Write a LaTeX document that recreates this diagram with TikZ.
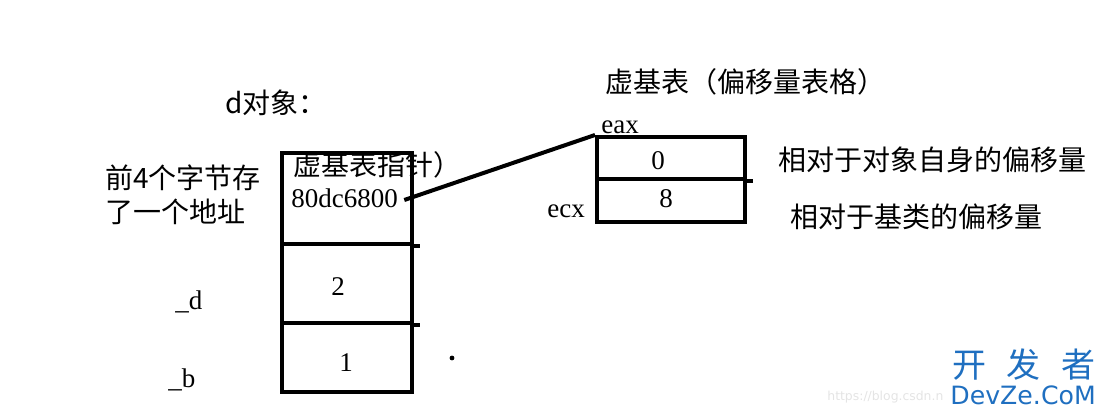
\documentclass[tikz,border=0pt]{standalone}
\usepackage{fontspec}
\setmainfont{Liberation Serif}
\newfontfamily\cjk{Noto Sans CJK SC}
\newfontfamily\logofont{DejaVu Sans}
\usetikzlibrary{positioning,calc}
\definecolor{LogoBlue}{HTML}{1F6FC0}
\definecolor{MarkGray}{HTML}{E4E4E4}

\begin{document}
\begin{tikzpicture}[
  x=0.5pt,y=-0.5pt,
  font=\fontsize{13.5}{17}\selectfont,
  boxcell/.style={draw,line width=2pt,minimum width=65pt,inner sep=0pt},
  tablecell/.style={draw,line width=2pt,minimum width=74pt,inner sep=0pt},
  cjktext/.style={font=\cjk\fontsize{14}{17}\selectfont,anchor=west,inner sep=0pt},
  latintext/.style={anchor=west,inner sep=0pt},
  numtext/.style={inner sep=0pt},
  link/.style={line width=2pt}
]
\useasboundingbox (0,0) rectangle (1107,416);

% d object layout
\node[cjktext] (dtitle) at (225,103) {d对象：};
\node[boxcell,minimum height=45.5pt] (ptrcell) at (347,198.5) {};
\node[boxcell,minimum height=39.5pt] (dcell) at (347,283.5) {};
\node[boxcell,minimum height=34.5pt] (bcell) at (347,357.5) {};
\draw[link] (ptrcell.south east) -- ++(6,0);
\draw[link] (dcell.south east) -- ++(6,0);

\node[cjktext] (ptrname) at (293,165) {虚基表指针）};
\node[latintext] (addr) at (291,198) {80dc6800};
\node[numtext] (dval) at (338,287) {2};
\node[numtext] (bval) at (346,363) {1};
\node[latintext] (dname) at (175,302) {\_d};
\node[latintext] (bname) at (168,380) {\_b};
\node[cjktext,align=left] (bytesnote) at (105,195) {前4个字节存\\了一个地址};
\fill (452,358) circle (1.2pt);

% virtual base table
\node[cjktext] (vbtitle) at (605,82) {虚基表（偏移量表格）};
\node[tablecell,minimum height=21pt] (zerocell) at (671,158) {};
\node[tablecell,minimum height=21.5pt] (eightcell) at (671,200.5) {};
\draw[link] (zerocell.south east) -- ++(6,0);
\node[numtext] (zeroval) at (658,161) {0};
\node[numtext] (eightval) at (666,199) {8};
\node[latintext] (eaxname) at (601,127) {eax};
\node[latintext] (ecxname) at (547,211) {ecx};
\node[cjktext] (selfoffset) at (778,160) {相对于对象自身的偏移量};
\node[cjktext] (baseoffset) at (790,217) {相对于基类的偏移量};

\draw[link] ($(addr.east)+(6,2)$) -- (zerocell.north west);

% watermark
\node[font=\logofont\fontsize{6.2}{7}\selectfont,text=MarkGray,anchor=west,inner sep=0pt]
  (csdnmark) at (827,397) {https://blog.csdn.n};
\node[font=\cjk\fontsize{17}{18}\selectfont,text=LogoBlue,anchor=west,inner sep=0pt]
  (logocn) at (952,365) {开\hspace{0.6em}发\hspace{0.6em}者};
\node[font=\logofont\fontsize{12.6}{14}\selectfont,text=LogoBlue,anchor=west,inner sep=0pt]
  (logoen) at (950,395) {DevZe.CoM};
\end{tikzpicture}
\end{document}
